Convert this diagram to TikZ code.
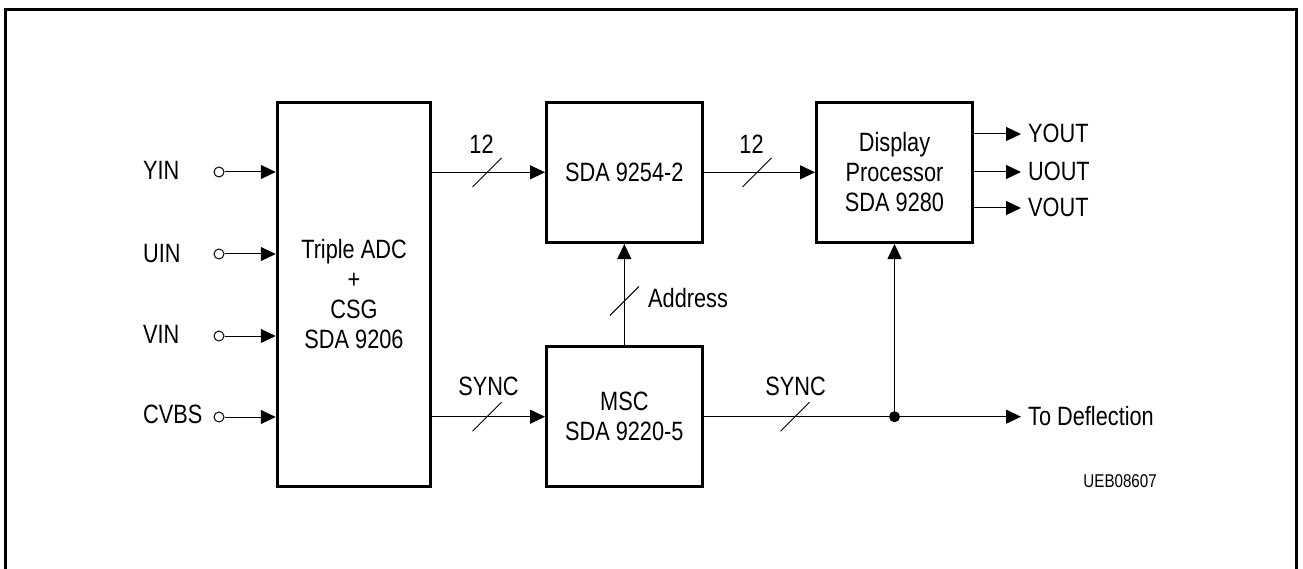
\documentclass[tikz,border=0pt]{standalone}
\usepackage{fontspec}
\setmainfont{Liberation Sans}[FakeStretch=0.82]
\usetikzlibrary{arrows.meta}
\begin{document}
\begin{tikzpicture}[x=1pt,y=-1pt,
  font=\fontsize{26.5}{30}\selectfont,
  blk/.style={draw,line width=3pt,inner sep=0pt,align=center},
  wire/.style={line width=1pt},
  arr/.style={wire,-{Triangle[length=15pt,width=14pt]}},
  lbl/.style={inner sep=0pt},
  pin/.style={circle,draw,line width=1pt,minimum size=10pt,inner sep=0pt},
  bus/.pic={\draw[line width=1pt] (-14.5,14.5) -- (14.5,-14.5);}]
\useasboundingbox (0,0) rectangle (1303,569);
\draw[line width=2.5pt] (5.3,580) -- (5.3,9.3) -- (1296.7,9.3) -- (1296.7,580);

% blocks
\node[blk,minimum width=153.5pt,minimum height=384.5pt] (adc) at (354,294.5) {Triple ADC\\+\\CSG\\SDA 9206};
\node[blk,minimum width=155.5pt,minimum height=140.5pt] (mem) at (624.3,172.3) {SDA 9254-2};
\node[blk,minimum width=155.5pt,minimum height=140.5pt] (msc) at (624.3,416.7) {MSC\\SDA 9220-5};
\node[blk,minimum width=156pt,minimum height=140.5pt] (disp) at (894.5,172.3) {Display\\Processor\\SDA 9280};

% inputs
\node[lbl,anchor=base west] (tyin) at (143,180) {YIN};
\node[lbl,anchor=base west] (tuin) at (143,262) {UIN};
\node[lbl,anchor=base west] (tvin) at (143,343) {VIN};
\node[lbl,anchor=base west] (tcvbs) at (143,423) {CVBS};
\node[pin] (pyin) at (219,172) {};
\node[pin] (puin) at (219,254) {};
\node[pin] (pvin) at (219,336) {};
\node[pin] (pcvbs) at (219,417) {};
\draw[arr] (pyin) -- (pyin -| adc.west);
\draw[arr] (puin) -- (puin -| adc.west);
\draw[arr] (pvin) -- (pvin -| adc.west);
\draw[arr] (pcvbs) -- (pcvbs -| adc.west);

% buses
\draw[arr] (adc.east |- mem.west) -- (mem.west);
\draw[arr] (adc.east |- msc.west) -- (msc.west);
\draw[arr] (mem.east) -- (disp.west);
\draw[arr] (msc.north) -- (mem.south);
\path (487,172.5) pic {bus};
\path (757,172.5) pic {bus};
\path (624.3,301) pic {bus};
\path (487,416.7) pic {bus};
\path (795,416.7) pic {bus};
\node[lbl,anchor=base] (n12a) at (481.5,154) {12};
\node[lbl,anchor=base] (n12b) at (751.5,154) {12};
\node[lbl,anchor=base] (synca) at (488.5,395) {SYNC};
\node[lbl,anchor=base] (syncb) at (795.5,395) {SYNC};
\node[lbl,anchor=base west] (addr) at (648,307) {Address};

% sync to display and deflection
\coordinate (jn) at (disp.south |- msc.east);
\coordinate (defl) at (1021,416.7);
\draw[wire] (msc.east) -- (jn);
\draw[arr] (jn) -- (disp.south);
\draw[arr] (jn) -- (defl);
\fill (jn) circle (5.5pt);
\node[lbl,anchor=base west] (tdefl) at (1028,425) {To Deflection};

% outputs
\coordinate (yout) at (1021,134);
\coordinate (uout) at (1021,172);
\coordinate (vout) at (1021,208);
\draw[arr] (disp.east |- yout) -- (yout);
\draw[arr] (disp.east |- uout) -- (uout);
\draw[arr] (disp.east |- vout) -- (vout);
\node[lbl,anchor=base west] (tyout) at (1028,143) {YOUT};
\node[lbl,anchor=base west] (tuout) at (1028,181) {UOUT};
\node[lbl,anchor=base west] (tvout) at (1028,217) {VOUT};

\node[lbl,anchor=base east,font=\fontsize{18.5}{20}\selectfont] (code) at (1157,487) {UEB08607};
\end{tikzpicture}
\end{document}
